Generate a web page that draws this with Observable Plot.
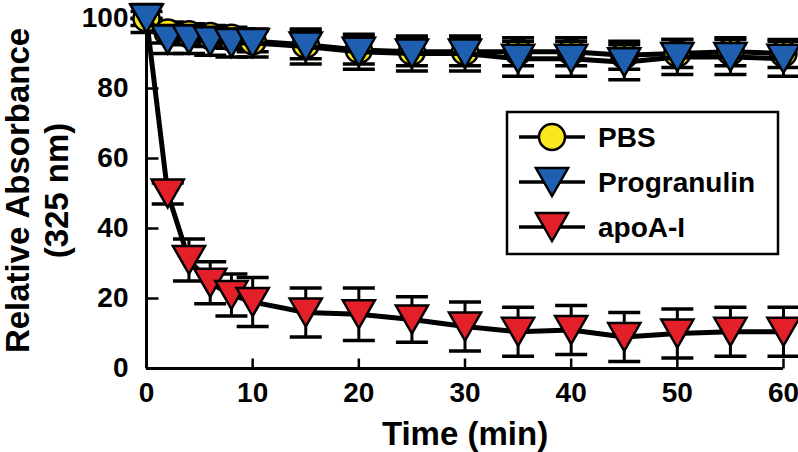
<!DOCTYPE html>
<html><head><meta charset="utf-8">
<script src="https://cdn.jsdelivr.net/npm/d3@7"></script>
<script src="https://cdn.jsdelivr.net/npm/@observablehq/plot@0.6"></script>
<style>body{margin:0;background:#fff;}</style>
</head><body><div id="chart"></div>
<script>
const times = [0,2,4,6,8,10,15,20,25,30,35,40,45,50,55,60];
const pbsMean = [100,96,95.5,95,94.5,93.5,92.5,91,90.5,90.5,90.5,90.5,89.5,90,90.5,90];
const pbsErr  = [2,3,3,3,3,3,4,4,4,4,4,4,4,4,4,4];
const progMean = [100,94,94,93.5,93,93,92,90.5,90,90,88.5,88.5,87.5,89,89,88.5];
const progErr  = [4,4,4,4,4,4,5,5,5,5,5,5,5,5,5,5];
const apoMean = [100,50,31,24.5,21,19,16,15.5,14,12,10.5,11,9,10,10.5,10.5];
const apoErr  = [0,3,6,6,6,7,7,7.5,6.5,7,7,7,7,7,7,7];
const xTicks = [0,10,20,30,40,50,60];
const yTicks = [0,20,40,60,80,100];
const seriesNames = ["PBS","Progranulin","apoA-I"];

const FONT = "'Liberation Sans', Arial, sans-serif";
const rOf = size => Math.sqrt(size / Math.PI);
const downTri = {draw(ctx, size){ const r = rOf(size); const w = r*1.15, h = r; ctx.moveTo(-w,-h); ctx.lineTo(w,-h); ctx.lineTo(0,h); ctx.closePath(); }};
const capSym = {draw(ctx, size){ const r = rOf(size); ctx.moveTo(-r,0); ctx.lineTo(r,0); }};
const vTick = {draw(ctx, size){ const r = rOf(size); ctx.moveTo(0,0); ctx.lineTo(0,-r); }};
const hTick = {draw(ctx, size){ const r = rOf(size); ctx.moveTo(0,0); ctx.lineTo(r,0); }};

const series = [
  {name: seriesNames[2], mean: apoMean, err: apoErr, fill: "#e3202a", symbol: downTri, r: 14},
  {name: seriesNames[0], mean: pbsMean, err: pbsErr, fill: "#f7e71c", symbol: "circle", r: 13},
  {name: seriesNames[1], mean: progMean, err: progErr, fill: "#1f5fb0", symbol: downTri, r: 14}
];

const marks = [
  Plot.axisX({ticks: xTicks, tickSize: 0, tickPadding: 14, label: null, fontSize: 28, fontWeight: "bold"}),
  Plot.axisY({ticks: yTicks, tickSize: 0, tickPadding: 18, label: null, fontSize: 28, fontWeight: "bold"}),
  Plot.ruleX([0], {stroke: "black", strokeWidth: 3}),
  Plot.ruleY([0], {stroke: "black", strokeWidth: 3}),
  Plot.dot(xTicks, {x: d => d, frameAnchor: "bottom", symbol: vTick, r: 10, fill: "none", stroke: "black", strokeWidth: 2.5}),
  Plot.dot(yTicks, {y: d => d, frameAnchor: "left", symbol: hTick, r: 12, fill: "none", stroke: "black", strokeWidth: 2.5}),
  Plot.text(["Time (min)"], {frameAnchor: "bottom", dy: 76, fontSize: 33, fontWeight: "bold", fill: "black"}),
  Plot.text(["Relative Absorbance"], {frameAnchor: "left", textAnchor: "middle", dx: -128, dy: -3, rotate: -90, fontSize: 33, fontWeight: "bold", fill: "black"}),
  Plot.text(["(325 nm)"], {frameAnchor: "left", textAnchor: "middle", dx: -89, dy: -3, rotate: -90, fontSize: 33, fontWeight: "bold", fill: "black"})
];

for (const s of series) {
  const rows = times.map((t, i) => ({t, m: s.mean[i], lo: s.mean[i] - s.err[i], hi: s.mean[i] + s.err[i]}));
  marks.push(
    Plot.ruleX(rows, {x: "t", y1: "lo", y2: "hi", stroke: "black", strokeWidth: 3}),
    Plot.dot(rows, {x: "t", y: "lo", symbol: capSym, r: 16, fill: "none", stroke: "black", strokeWidth: 3.5}),
    Plot.dot(rows, {x: "t", y: "hi", symbol: capSym, r: 16, fill: "none", stroke: "black", strokeWidth: 3.5}),
    Plot.line(rows, {x: "t", y: "m", stroke: "black", strokeWidth: 5}),
    Plot.dot(rows, {x: "t", y: "m", symbol: s.symbol, r: s.r, fill: s.fill, stroke: "black", strokeWidth: 2.5})
  );
}

const chart = Plot.plot({
  width: 798, height: 452,
  marginLeft: 146, marginRight: 15, marginTop: 18, marginBottom: 84,
  x: {domain: [0, 60]},
  y: {domain: [0, 100]},
  style: {fontFamily: FONT, fontWeight: "bold", fontSize: "28px", color: "black", background: "white", overflow: "visible"},
  marks
});
document.getElementById("chart").appendChild(chart);

const svg = d3.select(chart);
// enlarge tick labels to match reference
svg.selectAll('g[aria-label="x-axis tick label"], g[aria-label="y-axis tick label"]')
  .attr("font-size", 28).style("font-size", "28px").style("font-weight", "bold");
svg.selectAll('g[aria-label="x-axis tick label"] text, g[aria-label="y-axis tick label"] text')
  .style("font-size", "28px");

// Legend
const legendOrder = [series[1], series[2], series[0]];
const g = svg.append("g").attr("font-family", FONT).attr("font-weight", "bold").attr("text-anchor", "start");
g.append("rect").attr("x", 507).attr("y", 112).attr("width", 271).attr("height", 142)
  .attr("fill", "white").attr("stroke", "black").attr("stroke-width", 2.5);
legendOrder.forEach((s, i) => {
  const cy = 137 + i * 45;
  g.append("line").attr("x1", 519).attr("x2", 585).attr("y1", cy).attr("y2", cy).attr("stroke", "black").attr("stroke-width", 3.5);
  const sym = s.symbol === "circle" ? d3.symbolCircle : s.symbol;
  g.append("path").attr("transform", `translate(552,${cy})`)
    .attr("d", d3.symbol(sym, Math.PI * s.r * s.r)())
    .attr("fill", s.fill).attr("stroke", "black").attr("stroke-width", 2.5);
  g.append("text").attr("x", 598).attr("y", cy).attr("dy", "0.35em").attr("font-size", 28).attr("text-anchor", "start").attr("fill", "black").text(s.name);
});
</script>
</body></html>
